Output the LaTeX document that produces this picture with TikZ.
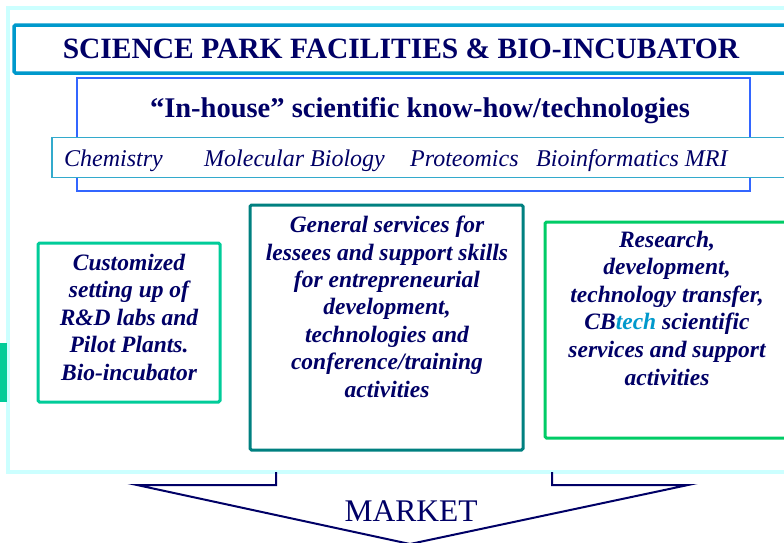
\documentclass[tikz,border=0pt]{standalone}
\usepackage{fontspec}
\setmainfont{Liberation Serif}
\definecolor{outerc}{HTML}{CCFFFF}
\definecolor{barc}{HTML}{00CC99}
\definecolor{titlec}{HTML}{0099CC}
\definecolor{inhousec}{HTML}{3366FF}
\definecolor{stripc}{HTML}{33AACC}
\definecolor{leftc}{HTML}{00CC99}
\definecolor{midc}{HTML}{008080}
\definecolor{rightc}{HTML}{00CC66}
\definecolor{navy}{HTML}{000066}
\definecolor{techc}{HTML}{0099CC}
\tikzset{
  boxshape/.style={draw, rectangle, rounded corners=1.5pt, inner sep=0pt, fill=white},
  boxtext/.style={text=navy, align=center, anchor=base, inner sep=0pt,
    font=\fontsize{23.5}{27.4}\selectfont\bfseries\itshape},
  striptext/.style={text=navy, anchor=base west, inner sep=0pt,
    font=\fontsize{24}{27}\selectfont\itshape},
  arrowline/.style={draw=navy, line width=2pt, line join=miter}
}
\begin{document}
\begin{tikzpicture}[x=1pt,y=-1pt]
\useasboundingbox (0,0) rectangle (784,542);
\clip (0,0) rectangle (784,542);
% outer frame
\node[boxshape, draw=outerc, line width=3.5pt, rounded corners=0pt,
  minimum width=796pt, minimum height=464pt] (outer) at (406,240) {};
% left green bar
\fill[barc] (0,343) rectangle (7,402);
% title
\node[boxshape, draw=titlec, line width=3.5pt, minimum width=790pt, minimum height=48pt] (titlebox) at (409,49) {};
\node[text=navy, anchor=base, inner sep=0pt, font=\fontsize{29.5}{32}\selectfont\bfseries] (title) at (401,58) {SCIENCE PARK FACILITIES \& BIO-INCUBATOR};
% in-house box
\node[boxshape, draw=inhousec, line width=1.5pt, rounded corners=0pt, minimum width=673pt, minimum height=113pt] (inhousebox) at (413.5,134.5) {};
\node[text=navy, anchor=base, inner sep=0pt, font=\fontsize{28.5}{31}\selectfont\bfseries] (inhouse) at (420,117) {“In-house” scientific know-how/technologies};
% strip
\node[boxshape, draw=stripc, line width=1.5pt, rounded corners=0pt, minimum width=760pt, minimum height=40pt] (strip) at (432,157.5) {};
\node[striptext] (chem) at (64,166) {Chemistry};
\node[striptext] (molbio) at (204,166) {Molecular Biology};
\node[striptext] (prot) at (410,166) {Proteomics};
\node[striptext] (bioinf) at (536,166) {Bioinformatics MRI};
% three boxes
\node[boxshape, draw=leftc, line width=3pt, minimum width=182pt, minimum height=159pt] (leftbox) at (129,322.5) {};
\node[boxtext] (lefttext) at (129,380) {Customized\\setting up of\\R\&D labs and\\Pilot Plants.\\Bio-incubator};
\node[boxshape, draw=midc, line width=3pt, minimum width=273pt, minimum height=245pt] (midbox) at (386.5,327.5) {};
\node[boxtext] (midtext) at (387,397) {General services for\\lessees and support skills\\for entrepreneurial\\development,\\technologies and\\conference/training\\activities};
\node[boxshape, draw=rightc, line width=3pt, minimum width=260pt, minimum height=216pt] (rightbox) at (675,330) {};
\node[boxtext, font=\fontsize{23.5}{27.6}\selectfont\bfseries\itshape] (righttext) at (667,385) {Research,\\development,\\technology transfer,\\CB\textcolor{techc}{tech} scientific\\services and support\\activities};
% market arrow
\coordinate (la) at (276,472);
\coordinate (lb) at (276,485);
\coordinate (lc) at (137,485);
\coordinate (tip) at (410,544);
\coordinate (rc) at (688,485);
\coordinate (rb) at (552,485);
\coordinate (ra) at (552,472);
\draw[arrowline] (la) -- (lb) -- (lc) -- (tip) -- (rc) -- (rb) -- (ra);
\node[text=navy, anchor=base, inner sep=0pt, font=\fontsize{31.5}{34}\selectfont] (market) at (411,521) {MARKET};
\end{tikzpicture}
\end{document}
